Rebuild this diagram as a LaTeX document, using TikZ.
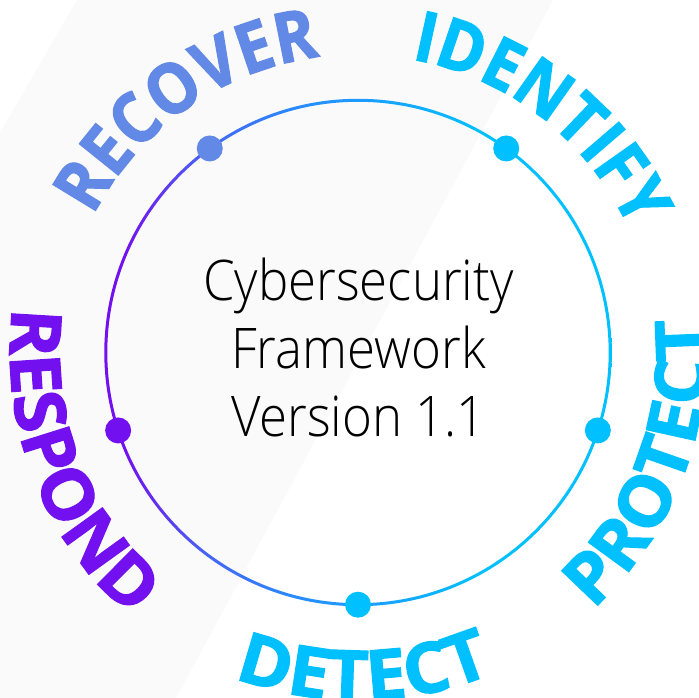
\documentclass[tikz,border=0pt]{standalone}
\usepackage{fontspec}
\setmainfont{Open Sans}
\newfontfamily\lightfont{Open Sans Light}
\newfontfamily\uplabelfont{Open Sans Bold}[BoldFont={Open Sans Bold}, BoldFeatures={FakeBold=1.6, FakeStretch=0.91}]
\newfontfamily\lowlabelfont{Open Sans Bold}[BoldFont={Open Sans Bold}, BoldFeatures={FakeBold=1.6, FakeStretch=1.04}]
\usetikzlibrary{decorations.text}
\definecolor{recov}{RGB}{99,137,230}
\definecolor{cyanb}{RGB}{0,192,255}
\definecolor{purp}{RGB}{115,16,240}
\definecolor{bggray}{RGB}{250,250,250}
\definecolor{ringa}{RGB}{70,100,245}
\definecolor{ringb}{RGB}{40,140,255}
\definecolor{ringc}{RGB}{30,155,255}
\pgfdeclarehorizontalshading{ringshade}{100bp}{
  color(0bp)=(purp);
  color(27bp)=(purp);
  color(35bp)=(ringa);
  color(44bp)=(ringb);
  color(50bp)=(ringc);
  color(62bp)=(cyanb);
  color(100bp)=(cyanb)}
\tikzset{
  uplabel/.style 2 args={decorate, decoration={text along path, text align=center,
     text={|\uplabelfont\bfseries\fontsize{70}{70}\selectfont\color{#1}|#2}}},
  lowlabel/.style 2 args={decorate, decoration={text along path, text align=center,
     text={|\lowlabelfont\bfseries\fontsize{70}{70}\selectfont\color{#1}|#2}}},
  dotmark/.style={circle, inner sep=0pt, minimum size=26pt, fill=#1},
  centertext/.style={anchor=base, font=\lightfont\fontsize{56}{68}\selectfont, text=black, inner sep=0pt, xscale=0.91}
}
\begin{document}
\begin{tikzpicture}[x=1pt,y=1pt]
\useasboundingbox (-358,-345.5) rectangle (341,352.5);
\fill[white] (-358,-345.5) rectangle (341,352.5);
% faint background band
\fill[bggray] (-281,352.5) -- (195,352.5) -- (-182,-345.5) -- (-358,-345.5) -- (-358,219.5) -- cycle;
\coordinate (c) at (0,0);
% gradient ring
\shade[shading=ringshade, even odd rule] (c) circle (253.7) (c) circle (250.7);
% dots
\node[dotmark=recov] (drec) at (126:252.2) {};
\node[dotmark=cyanb] (did) at (54:252.2) {};
\node[dotmark=cyanb] (dpro) at (-18:252.2) {};
\node[dotmark=cyanb] (ddet) at (-90:252.2) {};
\node[dotmark=purp] (dres) at (198:252.2) {};
% labels, upper half (clockwise, baseline inside)
\path[uplabel={recov}{RECOVER}] (c) ++(185:298) arc[start angle=185, end angle=65, radius=298];
\path[uplabel={cyanb}{IDENTIFY}] (c) ++(112:298) arc[start angle=112, end angle=-8, radius=298];
% labels, lower half (counterclockwise, baseline outside)
\path[lowlabel={cyanb}{PROTECT}] (c) ++(-81:348) arc[start angle=-81, end angle=39, radius=348];
\path[lowlabel={cyanb}{DETECT}] (c) ++(-149:348) arc[start angle=-149, end angle=-29, radius=348];
\path[lowlabel={purp}{RESPOND}] (c) ++(141:348) arc[start angle=141, end angle=261, radius=348];
% centre text
\node[centertext] (t1) at (0.5,51.5) {Cybersecurity};
\node[centertext] (t2) at (0.5,-16.5) {Framework};
\node[centertext] (t3) at (0.5,-84.5) {Version 1.1};
\end{tikzpicture}
\end{document}
